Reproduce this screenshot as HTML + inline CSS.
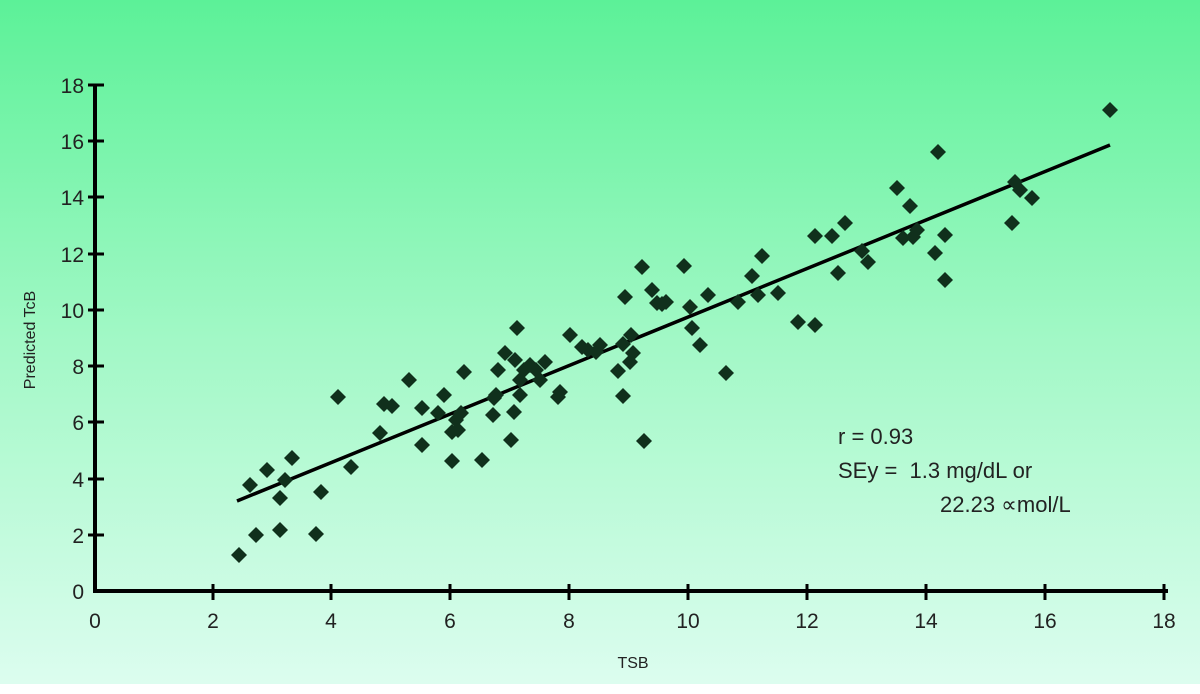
<!DOCTYPE html>
<html><head><style>
html,body{margin:0;padding:0;width:1200px;height:694px;overflow:hidden;background:#fff}
</style></head><body>
<svg width="1200" height="694" xmlns="http://www.w3.org/2000/svg" font-family="Liberation Sans, sans-serif">
<defs>
<linearGradient id="g" x1="0" y1="0" x2="0" y2="1">
<stop offset="0" stop-color="#5cf198"/>
<stop offset="0.5" stop-color="#a2f8c6"/>
<stop offset="1" stop-color="#dcfdef"/>
</linearGradient>
<path id="d" d="M0,-8 L8,0 L0,8 L-8,0Z" fill="#10301c"/>
</defs>
<rect x="0" y="0" width="1200" height="684" fill="url(#g)"/>
<g stroke="#000" stroke-width="4" fill="none">
<line x1="95" y1="85" x2="95" y2="593"/>
<line x1="93" y1="591" x2="1168" y2="591"/>
<line x1="237" y1="501" x2="1110" y2="145" stroke-width="3.5"/>
</g>
<g stroke="#000" stroke-width="3">
<line x1="88" y1="85" x2="104" y2="85"/><line x1="88" y1="141" x2="104" y2="141"/><line x1="88" y1="197" x2="104" y2="197"/><line x1="88" y1="254" x2="104" y2="254"/><line x1="88" y1="310" x2="104" y2="310"/><line x1="88" y1="366" x2="104" y2="366"/><line x1="88" y1="422" x2="104" y2="422"/><line x1="88" y1="479" x2="104" y2="479"/><line x1="88" y1="535" x2="104" y2="535"/>
<line x1="213" y1="584" x2="213" y2="600"/><line x1="331" y1="584" x2="331" y2="600"/><line x1="450" y1="584" x2="450" y2="600"/><line x1="569" y1="584" x2="569" y2="600"/><line x1="688" y1="584" x2="688" y2="600"/><line x1="807" y1="584" x2="807" y2="600"/><line x1="926" y1="584" x2="926" y2="600"/><line x1="1045" y1="584" x2="1045" y2="600"/><line x1="1164" y1="584" x2="1164" y2="600"/>
</g>
<g font-size="21" fill="#222" text-anchor="end">
<text x="84" y="93">18</text><text x="84" y="149">16</text><text x="84" y="205">14</text><text x="84" y="262">12</text><text x="84" y="318">10</text><text x="84" y="374">8</text><text x="84" y="430">6</text><text x="84" y="487">4</text><text x="84" y="543">2</text><text x="84" y="599">0</text>
</g>
<g font-size="21" fill="#222" text-anchor="middle">
<text x="95" y="628">0</text><text x="213" y="628">2</text><text x="331" y="628">4</text><text x="450" y="628">6</text><text x="569" y="628">8</text><text x="688" y="628">10</text><text x="807" y="628">12</text><text x="926" y="628">14</text><text x="1045" y="628">16</text><text x="1164" y="628">18</text>
</g>
<text x="633" y="668" font-size="16" text-anchor="middle" fill="#222">TSB</text>
<text transform="translate(35,340) rotate(-90)" font-size="16" text-anchor="middle" fill="#222">Predicted TcB</text>
<g font-size="22" fill="#222">
<text x="838" y="444">r = 0.93</text>
<text x="838" y="478">SEy =&#160; 1.3 mg/dL or</text>
<text x="940" y="512">22.23 ∝mol/L</text>
</g>
<g>
<use href="#d" x="239" y="555"/><use href="#d" x="250" y="485"/><use href="#d" x="256" y="535"/><use href="#d" x="267" y="470"/><use href="#d" x="280" y="498"/><use href="#d" x="280" y="530"/><use href="#d" x="285" y="480"/><use href="#d" x="292" y="458"/><use href="#d" x="316" y="534"/><use href="#d" x="321" y="492"/><use href="#d" x="338" y="397"/><use href="#d" x="351" y="467"/><use href="#d" x="380" y="433"/><use href="#d" x="384" y="404"/><use href="#d" x="392" y="406"/><use href="#d" x="409" y="380"/><use href="#d" x="422" y="445"/><use href="#d" x="422" y="408"/><use href="#d" x="438" y="413"/><use href="#d" x="444" y="395"/><use href="#d" x="452" y="461"/><use href="#d" x="452" y="432"/><use href="#d" x="456" y="420"/><use href="#d" x="458" y="430"/><use href="#d" x="461" y="413"/><use href="#d" x="464" y="372"/><use href="#d" x="482" y="460"/><use href="#d" x="493" y="415"/><use href="#d" x="494" y="398"/><use href="#d" x="496" y="395"/><use href="#d" x="498" y="370"/><use href="#d" x="505" y="353"/><use href="#d" x="511" y="440"/><use href="#d" x="514" y="412"/><use href="#d" x="515" y="360"/><use href="#d" x="517" y="328"/><use href="#d" x="520" y="380"/><use href="#d" x="520" y="395"/><use href="#d" x="524" y="370"/><use href="#d" x="530" y="365"/><use href="#d" x="536" y="370"/><use href="#d" x="540" y="380"/><use href="#d" x="545" y="362"/><use href="#d" x="558" y="397"/><use href="#d" x="560" y="392"/><use href="#d" x="570" y="335"/><use href="#d" x="582" y="347"/><use href="#d" x="588" y="350"/><use href="#d" x="596" y="352"/><use href="#d" x="600" y="345"/><use href="#d" x="618" y="371"/><use href="#d" x="623" y="344"/><use href="#d" x="623" y="396"/><use href="#d" x="625" y="297"/><use href="#d" x="630" y="362"/><use href="#d" x="631" y="335"/><use href="#d" x="633" y="353"/><use href="#d" x="642" y="267"/><use href="#d" x="644" y="441"/><use href="#d" x="652" y="290"/><use href="#d" x="657" y="303"/><use href="#d" x="662" y="304"/><use href="#d" x="666" y="302"/><use href="#d" x="684" y="266"/><use href="#d" x="690" y="307"/><use href="#d" x="692" y="328"/><use href="#d" x="700" y="345"/><use href="#d" x="708" y="295"/><use href="#d" x="726" y="373"/><use href="#d" x="738" y="302"/><use href="#d" x="752" y="276"/><use href="#d" x="758" y="295"/><use href="#d" x="762" y="256"/><use href="#d" x="778" y="293"/><use href="#d" x="798" y="322"/><use href="#d" x="815" y="325"/><use href="#d" x="815" y="236"/><use href="#d" x="832" y="236"/><use href="#d" x="838" y="273"/><use href="#d" x="845" y="223"/><use href="#d" x="862" y="251"/><use href="#d" x="868" y="262"/><use href="#d" x="897" y="188"/><use href="#d" x="903" y="238"/><use href="#d" x="910" y="206"/><use href="#d" x="913" y="237"/><use href="#d" x="917" y="230"/><use href="#d" x="935" y="253"/><use href="#d" x="938" y="152"/><use href="#d" x="945" y="235"/><use href="#d" x="945" y="280"/><use href="#d" x="1012" y="223"/><use href="#d" x="1015" y="182"/><use href="#d" x="1020" y="190"/><use href="#d" x="1032" y="198"/><use href="#d" x="1110" y="110"/>
</g>
</svg>
</body></html>
